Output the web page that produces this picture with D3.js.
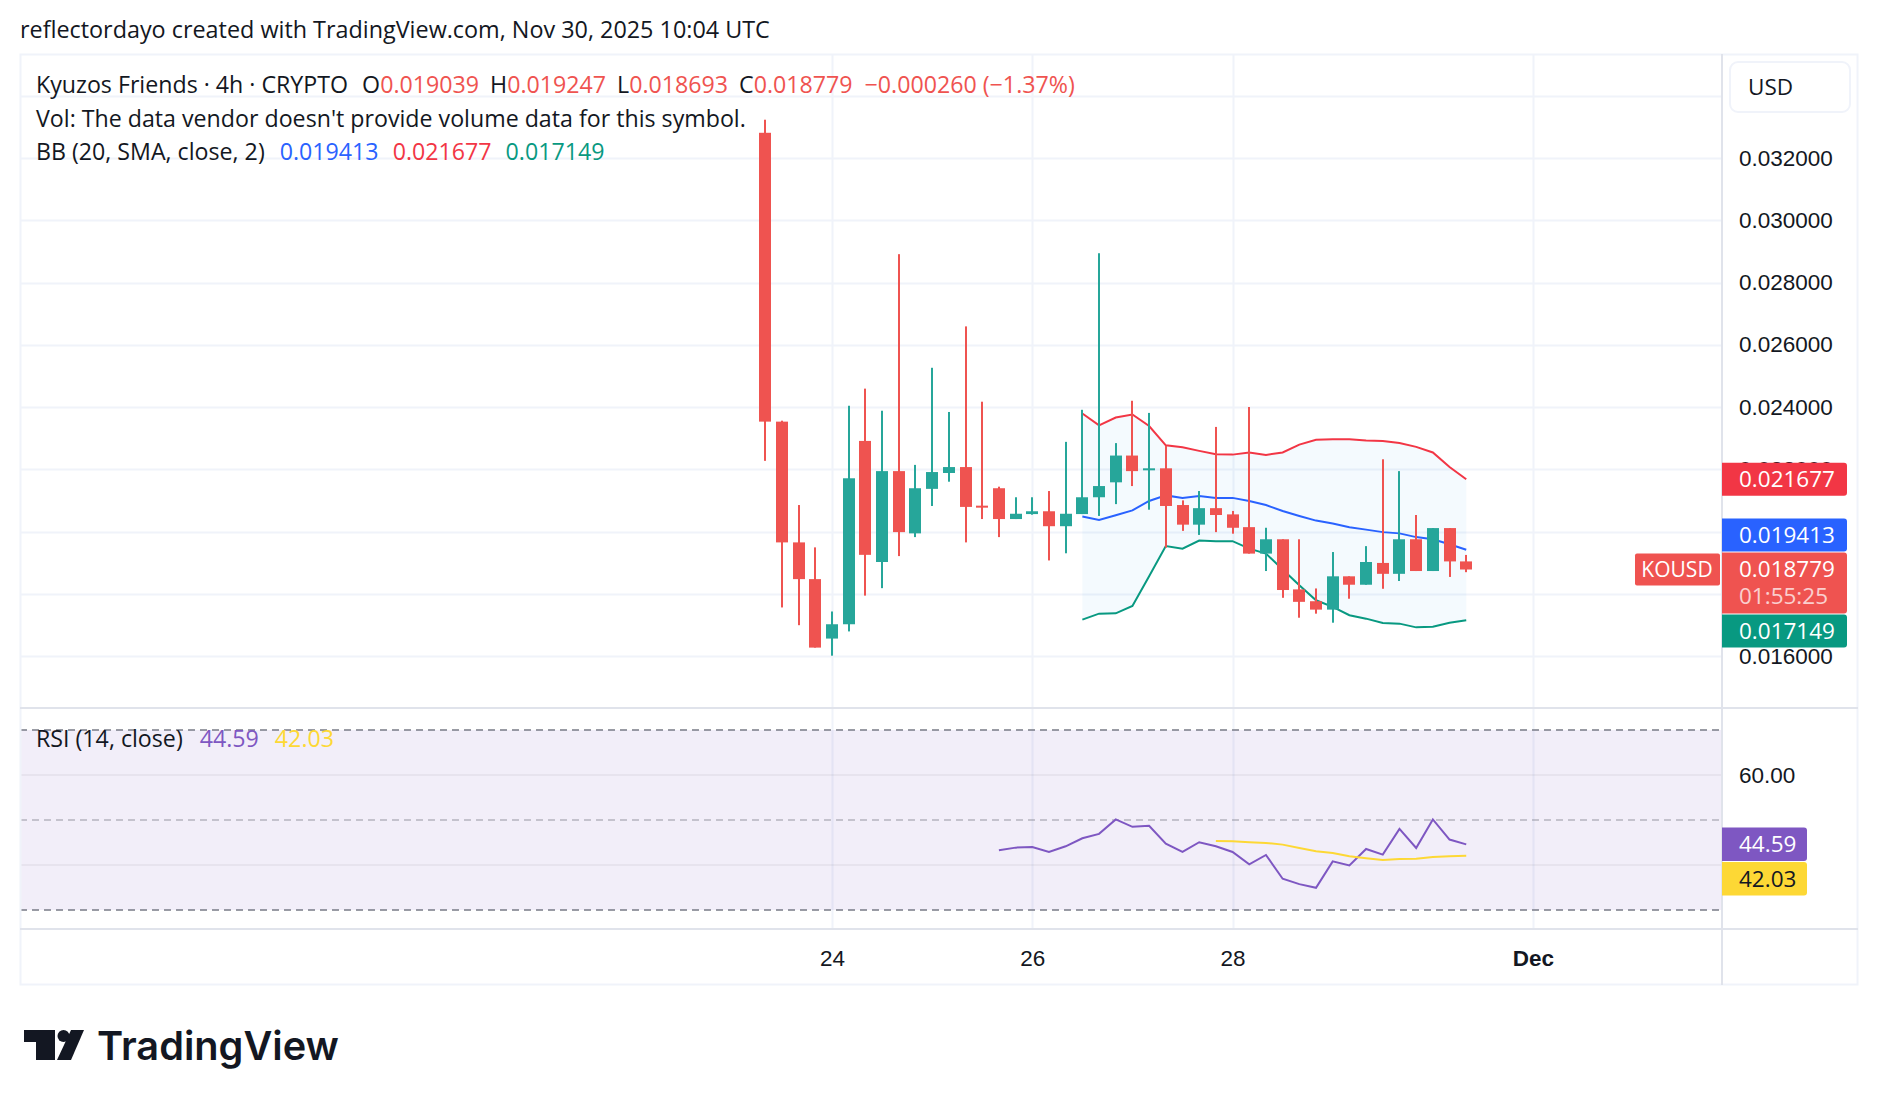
<!DOCTYPE html>
<html>
<head>
<meta charset="utf-8">
<script src="https://cdn.jsdelivr.net/npm/d3@7"></script>
<style>
  html, body { margin: 0; padding: 0; background: #fff; }
  svg { display: block; font-family: "Open Sans", "Noto Sans", sans-serif; }
</style>
</head>
<body>
<svg id="chart" width="1878" height="1106"></svg>
<script>
// KOUSD 4h bars, the first one opens Nov 23 08:00 UTC
const firstBar = Date.UTC(2025, 10, 23, 8)
const barMs = 4 * 3600 * 1000

const opens  = [0.03281, 0.02353, 0.01965, 0.01847, 0.01656, 0.01702, 0.02291, 0.01902, 0.02194, 0.01994,
                0.02137, 0.02188, 0.02207, 0.02083, 0.02139, 0.02040, 0.02056, 0.02065, 0.02017, 0.02056,
                0.02110, 0.02158, 0.02244, 0.02197, 0.02203, 0.02085, 0.02022, 0.02075, 0.02055, 0.02014,
                0.01929, 0.01975, 0.01814, 0.01776, 0.01749, 0.01856, 0.01829, 0.01899, 0.01864, 0.01975,
                0.01873, 0.02011, 0.019039]
const highs  = [0.03323, 0.02356, 0.02085, 0.01949, 0.01743, 0.02404, 0.02459, 0.02388, 0.02891, 0.02214,
                0.02526, 0.02384, 0.02659, 0.02417, 0.02144, 0.02110, 0.02110, 0.02130, 0.02288, 0.02391,
                0.02894, 0.02284, 0.02420, 0.02381, 0.02275, 0.02100, 0.02130, 0.02336, 0.02066, 0.02400,
                0.02012, 0.01975, 0.01975, 0.01817, 0.01934, 0.01856, 0.01953, 0.02232, 0.02194, 0.02053,
                0.02011, 0.02011, 0.019247]
const lows   = [0.02227, 0.01756, 0.01699, 0.01627, 0.01601, 0.01679, 0.01794, 0.01818, 0.01921, 0.01982,
                0.02082, 0.02160, 0.01965, 0.02040, 0.01982, 0.02040, 0.02054, 0.01907, 0.01930, 0.02056,
                0.02050, 0.02088, 0.02146, 0.02070, 0.01948, 0.02002, 0.01989, 0.01998, 0.01993, 0.01929,
                0.01873, 0.01787, 0.01723, 0.01736, 0.01707, 0.01784, 0.01829, 0.01816, 0.01841, 0.01873,
                0.01873, 0.01854, 0.018693]
const closes = [0.02353, 0.01965, 0.01847, 0.01627, 0.01702, 0.02171, 0.01925, 0.02194, 0.01998, 0.02139,
                0.02191, 0.02207, 0.02079, 0.02080, 0.02040, 0.02057, 0.02065, 0.02017, 0.02057, 0.02110,
                0.02146, 0.02244, 0.02194, 0.02203, 0.02082, 0.02022, 0.02075, 0.02053, 0.02012, 0.01929,
                0.01975, 0.01812, 0.01774, 0.01749, 0.01856, 0.01829, 0.01902, 0.01864, 0.01975, 0.01873,
                0.02011, 0.019039, 0.018779]

// Bollinger (20, SMA, close, 2), first value on bar index 19
const bbStart = 19
const bbBasis = [0.02048, 0.02037, 0.02052, 0.02068, 0.02098, 0.02116, 0.02108, 0.02114, 0.02108, 0.02108,
                 0.02098, 0.02085, 0.02066, 0.02050, 0.02035, 0.02026, 0.02014, 0.02006, 0.01998, 0.01994,
                 0.01982, 0.01975, 0.01959, 0.019413]
const bbUpper = [0.02379, 0.02341, 0.02366, 0.02376, 0.02339, 0.02277, 0.02271, 0.02259, 0.02248, 0.02247,
                 0.02254, 0.02246, 0.02254, 0.02279, 0.02295, 0.02296, 0.02296, 0.02292, 0.02291, 0.02284,
                 0.02272, 0.02254, 0.02207, 0.021677]
const bbLower = [0.01717, 0.01736, 0.01737, 0.01761, 0.01856, 0.01953, 0.01945, 0.01971, 0.01969, 0.01969,
                 0.01945, 0.01929, 0.01878, 0.01827, 0.01779, 0.01758, 0.01731, 0.01720, 0.01706, 0.01704,
                 0.01692, 0.01694, 0.01707, 0.017149]

// RSI (14, close) from bar 14, its MA from bar 27
const rsiStart = 14
const rsiValues = [43.27, 43.86, 44.00, 42.90, 44.16, 45.95, 46.92, 50.12, 48.48, 48.70,
                   44.76, 42.90, 45.06, 44.16, 42.90, 40.14, 42.23, 36.94, 35.75, 34.93,
                   40.81, 39.92, 43.57, 42.30, 48.03, 43.79, 50.12, 45.65, 44.59]
const rsiMaStart = 27
const rsiMa = [45.35, 45.28, 45.06, 44.91, 44.53, 43.79, 43.04, 42.67, 41.93, 41.48,
               41.11, 41.33, 41.41, 41.78, 41.93, 42.03]

const priceGrid = [0.016, 0.018, 0.020, 0.022, 0.024, 0.026, 0.028, 0.030, 0.032, 0.034]
// 0.018 and 0.020 sit fully under the value badges, so only these show
const priceTicks = [0.016, 0.022, 0.024, 0.026, 0.028, 0.030, 0.032]
const rsiTicks = [60]
const rsiGrid = [40, 60]
const dayTicks = [Date.UTC(2025, 10, 24), Date.UTC(2025, 10, 26), Date.UTC(2025, 10, 28), Date.UTC(2025, 11, 1)]

// ── layout ──
const frame = { left: 20, top: 54, right: 1858, bottom: 985 }
const axisX = 1722
const mainBottom = 708
const rsiBottom = 929

const textCol = '#131722'
const gridCol = '#f0f3fa'
const borderCol = '#e0e3eb'
const colUp = '#26a69a'
const colDown = '#ef5350'
const colUpper = '#f23645', colBasis = '#2962ff', colLower = '#089981'
const colRsi = '#7e57c2', colRsiMa = '#fdd835'
const axisFont = 22.5

const svg = d3.select('#chart')
svg.append('rect').attr('width', 1878).attr('height', 1106).attr('fill', '#fff')

const x = d3.scaleUtc()
  .domain([new Date(dayTicks[0]), new Date(dayTicks[3])])
  .range([832, 1533])
const y = d3.scaleLinear().domain([0.016, 0.032]).range([656, 158])
const yr = d3.scaleLinear().domain([30, 70]).range([910, 730])

const barTime = i => new Date(firstBar + i * barMs)
const bars = opens.map((o, i) => ({ t: barTime(i), o, h: highs[i], l: lows[i], c: closes[i] }))
const band = bbBasis.map((v, i) => ({ t: barTime(bbStart + i), m: v, u: bbUpper[i], l: bbLower[i] }))
const rsi = rsiValues.map((v, i) => ({ t: barTime(rsiStart + i), v }))
const rsiAvg = rsiMa.map((v, i) => ({ t: barTime(rsiMaStart + i), v }))

const defs = svg.append('defs')
defs.append('clipPath').attr('id', 'clipMain').append('rect')
  .attr('x', frame.left).attr('y', frame.top).attr('width', axisX - frame.left).attr('height', mainBottom - frame.top)
defs.append('clipPath').attr('id', 'clipRsi').append('rect')
  .attr('x', frame.left).attr('y', mainBottom).attr('width', axisX - frame.left).attr('height', rsiBottom - mainBottom)

// ── grid ──
const grid = svg.append('g')
grid.selectAll('line.h').data(priceGrid).join('line')
  .attr('x1', frame.left).attr('x2', axisX)
  .attr('y1', d => Math.round(y(d)) + 0.5).attr('y2', d => Math.round(y(d)) + 0.5)
  .attr('stroke', gridCol).attr('stroke-width', 2)

// RSI background band
const rsiPane = svg.append('g').attr('clip-path', 'url(#clipRsi)')
rsiPane.append('rect')
  .attr('x', frame.left).attr('width', axisX - frame.left)
  .attr('y', yr(70)).attr('height', yr(30) - yr(70))
  .attr('fill', 'rgba(126,87,194,0.1)')
rsiPane.selectAll('line.g').data(rsiGrid).join('line')
  .attr('x1', frame.left).attr('x2', axisX)
  .attr('y1', d => yr(d)).attr('y2', d => yr(d))
  .attr('stroke', 'rgba(120,123,134,0.12)').attr('stroke-width', 1.5)

grid.selectAll('line.v').data(dayTicks).join('line')
  .attr('x1', d => Math.round(x(new Date(d))) + 0.5).attr('x2', d => Math.round(x(new Date(d))) + 0.5)
  .attr('y1', frame.top).attr('y2', rsiBottom)
  .attr('stroke', gridCol).attr('stroke-width', 2)

rsiPane.selectAll('line.lvl').data([70, 50, 30]).join('line')
  .attr('x1', frame.left).attr('x2', axisX)
  .attr('y1', d => yr(d)).attr('y2', d => yr(d))
  .attr('stroke', d => d === 50 ? 'rgba(120,123,134,0.5)' : '#787b86')
  .attr('stroke-width', 1.5)
  .attr('stroke-dasharray', '7,5')

// ── main pane ──
const main = svg.append('g').attr('clip-path', 'url(#clipMain)')

main.append('path').datum(band)
  .attr('fill', 'rgba(33,150,243,0.05)')
  .attr('d', d3.area().x(d => x(d.t)).y0(d => y(d.l)).y1(d => y(d.u)))

const bandLine = key => d3.line().x(d => x(d.t)).y(d => y(d[key]))
main.append('path').datum(band).attr('fill', 'none').attr('stroke', colUpper).attr('stroke-width', 2).attr('d', bandLine('u'))
main.append('path').datum(band).attr('fill', 'none').attr('stroke', colBasis).attr('stroke-width', 2).attr('d', bandLine('m'))
main.append('path').datum(band).attr('fill', 'none').attr('stroke', colLower).attr('stroke-width', 2).attr('d', bandLine('l'))

const candle = main.append('g').selectAll('g').data(bars).join('g')
  .attr('fill', d => d.c >= d.o ? colUp : colDown)
candle.append('rect')
  .attr('x', d => Math.round(x(d.t)) - 1).attr('width', 2)
  .attr('y', d => y(d.h)).attr('height', d => Math.max(1, y(d.l) - y(d.h)))
candle.append('rect')
  .attr('x', d => Math.round(x(d.t)) - 6).attr('width', 12)
  .attr('y', d => y(Math.max(d.o, d.c)))
  .attr('height', d => Math.max(2, Math.abs(y(d.o) - y(d.c))))

// ── RSI lines ──
rsiPane.append('path').datum(rsi).attr('fill', 'none').attr('stroke', colRsi).attr('stroke-width', 2)
  .attr('d', d3.line().x(d => x(d.t)).y(d => yr(d.v)))
rsiPane.append('path').datum(rsiAvg).attr('fill', 'none').attr('stroke', colRsiMa).attr('stroke-width', 2)
  .attr('d', d3.line().x(d => x(d.t)).y(d => yr(d.v)))

// ── frame and separators ──
svg.append('rect')
  .attr('x', frame.left + 0.5).attr('y', frame.top + 0.5)
  .attr('width', frame.right - frame.left - 1).attr('height', frame.bottom - frame.top - 1)
  .attr('fill', 'none').attr('stroke', gridCol).attr('stroke-width', 2)
svg.append('line').attr('x1', axisX).attr('x2', axisX).attr('y1', frame.top).attr('y2', frame.bottom)
  .attr('stroke', borderCol).attr('stroke-width', 2)
svg.selectAll('line.sep').data([mainBottom, rsiBottom]).join('line')
  .attr('x1', frame.left).attr('x2', frame.right).attr('y1', d => d).attr('y2', d => d)
  .attr('stroke', borderCol).attr('stroke-width', 2)

// ── axes ──
const fmtPrice = d3.format('.6f')
const priceAxis = svg.append('g').attr('transform', `translate(${axisX},0)`)
  .call(d3.axisRight(y).tickValues(priceTicks).tickFormat(fmtPrice).tickSize(0).tickPadding(17))
priceAxis.select('.domain').remove()
priceAxis.selectAll('text').attr('font-size', axisFont).attr('fill', textCol).attr('font-family', null)

const rsiAxis = svg.append('g').attr('transform', `translate(${axisX},0)`)
  .call(d3.axisRight(yr).tickValues(rsiTicks).tickFormat(d3.format('.2f')).tickSize(0).tickPadding(17))
rsiAxis.select('.domain').remove()
rsiAxis.selectAll('text').attr('font-size', axisFont).attr('fill', textCol).attr('font-family', null)

const timeAxis = svg.append('g').attr('transform', `translate(0,${rsiBottom})`)
  .call(d3.axisBottom(x).tickValues(dayTicks.map(d => new Date(d))).tickSize(0)
    .tickFormat(d => d.getUTCDate() === 1 ? d3.utcFormat('%b')(d) : d.getUTCDate()))
timeAxis.select('.domain').remove()
timeAxis.selectAll('text')
  .attr('y', 29).attr('dy', '0.35em')
  .attr('font-size', axisFont).attr('fill', textCol).attr('font-family', null)
  .attr('font-weight', d => new Date(d).getUTCDate() === 1 ? 600 : 400)

// USD box
svg.append('rect').attr('x', 1730).attr('y', 62).attr('width', 120).attr('height', 50).attr('rx', 8)
  .attr('fill', '#fff').attr('stroke', gridCol).attr('stroke-width', 2)
svg.append('text').attr('x', 1748).attr('y', 87).attr('dy', '0.35em')
  .attr('font-size', axisFont).attr('fill', textCol).text('USD')

// ── price badges ──
function badge(top, h, w, fill) {
  const x0 = axisX, x1 = axisX + w, r = 3, y1 = top + h
  svg.append('path')
    .attr('d', `M${x0},${top}H${x1 - r}Q${x1},${top} ${x1},${top + r}V${y1 - r}Q${x1},${y1} ${x1 - r},${y1}H${x0}Z`)
    .attr('fill', fill)
}
function badgeText(yc, txt, color, opacity) {
  svg.append('text').attr('x', axisX + 17).attr('y', yc).attr('dy', '0.35em')
    .attr('font-size', axisFont).attr('fill', color || '#fff').attr('opacity', opacity || 1).text(txt)
}

const last = bars.length - 1
const lastClose = closes[last]
const bh = 33
const yClose = y(lastClose)
const closeTop = yClose - 17, closeBottom = yClose + 44

const upVal = bbUpper[bbUpper.length - 1], midVal = bbBasis[bbBasis.length - 1], lowVal = bbLower[bbLower.length - 1]
const upC = y(upVal)
const midC = Math.min(y(midVal), closeTop - 1 - bh / 2)
const lowC = Math.max(y(lowVal), closeBottom + 1 + bh / 2)

badge(upC - bh / 2, bh, 125, colUpper); badgeText(upC, fmtPrice(upVal))
badge(midC - bh / 2, bh, 125, colBasis); badgeText(midC, fmtPrice(midVal))
badge(closeTop, closeBottom - closeTop, 125, colDown)
badgeText(yClose, fmtPrice(lastClose))
badgeText(yClose + 27, '01:55:25', '#fff', 0.72)
badge(lowC - bh / 2, bh, 125, colLower); badgeText(lowC, fmtPrice(lowVal))

// symbol tag left of the scale
svg.append('rect').attr('x', 1635).attr('y', yClose - 16).attr('width', 85).attr('height', 32).attr('rx', 2).attr('fill', colDown)
svg.append('text').attr('x', 1677).attr('y', yClose).attr('dy', '0.35em').attr('text-anchor', 'middle')
  .attr('font-size', 21).attr('fill', '#fff').text('KOUSD')

// RSI badges
const rsiLast = rsiValues[rsiValues.length - 1], maLast = rsiMa[rsiMa.length - 1]
const rbh = 33.5
const rsiC = yr(rsiLast)
const maC = Math.max(yr(maLast), rsiC + rbh + 1)
badge(rsiC - rbh / 2, rbh, 85, colRsi); badgeText(rsiC, d3.format('.2f')(rsiLast))
badge(maC - rbh / 2, rbh, 85, colRsiMa); badgeText(maC, d3.format('.2f')(maLast), textCol)

// ── legends ──
function fitWidth(sel, w) {
  const fs = parseFloat(sel.attr('font-size'))
  sel.attr('font-size', fs * w / sel.node().getBBox().width)
  return parseFloat(sel.attr('font-size'))
}

const title = svg.append('text').attr('x', 20).attr('y', 30).attr('dy', '0.35em')
  .attr('font-size', 22).attr('fill', textCol)
  .text('reflectordayo created with TradingView.com, Nov 30, 2025 10:04 UTC')
fitWidth(title, 750)

const row2 = svg.append('text').attr('x', 36).attr('y', 119).attr('dy', '0.35em')
  .attr('font-size', 22).attr('fill', textCol)
  .text("Vol: The data vendor doesn't provide volume data for this symbol.")
const legendSize = fitWidth(row2, 710)

const row1 = svg.append('text').attr('x', 36).attr('y', 85).attr('dy', '0.35em')
  .attr('font-size', legendSize).attr('fill', textCol)
row1.append('tspan').text('Kyuzos Friends · 4h · CRYPTO')
const ohlc = [['O', opens[last]], ['H', highs[last]], ['L', lows[last]], ['C', closes[last]]]
ohlc.forEach(([k, v], i) => {
  row1.append('tspan').attr('dx', i === 0 ? 14 : 11).text(k)
  row1.append('tspan').attr('fill', colDown).text(fmtPrice(v))
})
const chg = closes[last] - closes[last - 1]
row1.append('tspan').attr('dx', 12).attr('fill', colDown)
  .text(`${fmtPrice(chg)} (${d3.format('.2f')(chg / closes[last - 1] * 100)}%)`)

const row3 = svg.append('text').attr('x', 36).attr('y', 152).attr('dy', '0.35em')
  .attr('font-size', legendSize).attr('fill', textCol)
row3.append('tspan').text('BB (20, SMA, close, 2)')
row3.append('tspan').attr('dx', 15).attr('fill', colBasis).text(fmtPrice(midVal))
row3.append('tspan').attr('dx', 14).attr('fill', colUpper).text(fmtPrice(upVal))
row3.append('tspan').attr('dx', 14).attr('fill', colLower).text(fmtPrice(lowVal))

const rsiLabel = svg.append('text').attr('x', 36).attr('y', 739).attr('dy', '0.35em')
  .attr('font-size', legendSize).attr('fill', textCol)
rsiLabel.append('tspan').text('RSI (14, close)')
rsiLabel.append('tspan').attr('dx', 17).attr('fill', colRsi).text(d3.format('.2f')(rsiLast))
rsiLabel.append('tspan').attr('dx', 16).attr('fill', colRsiMa).text(d3.format('.2f')(maLast))

// ── TradingView logo ──
const logo = svg.append('g').attr('fill', textCol)
logo.append('path').attr('d', 'M24,1030H55V1060H36V1042H24Z')
logo.append('circle').attr('cx', 63.5).attr('cy', 1036).attr('r', 6)
logo.append('path').attr('d', 'M71,1030H84L71,1060H57Z')
const brand = logo.append('text').attr('x', 97).attr('y', 1060)
  .attr('font-family', 'Inter, sans-serif').attr('font-weight', 600).attr('font-size', 40)
  .text('TradingView')
fitWidth(brand, 242)
</script>
</body>
</html>
